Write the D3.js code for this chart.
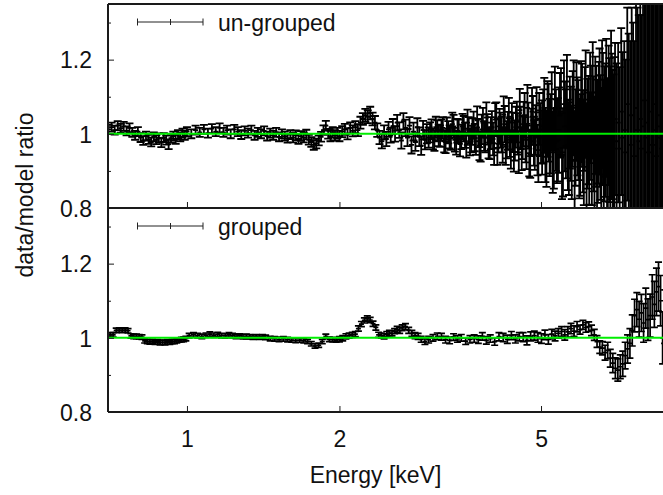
<!DOCTYPE html>
<html><head><meta charset="utf-8">
<script src="https://cdn.jsdelivr.net/npm/d3@7"></script>
<style>
body{margin:0;background:#fff}
svg{display:block}
text{font-family:"Liberation Sans",Arial,Helvetica,sans-serif;fill:#111}
</style>
</head><body><svg id="c" width="663" height="495"></svg>
<script>
// ---------- DATA ----------
const xTickValues = [1, 2, 5];
const yMajorTicks = [0.8, 1, 1.2];
const yMinorTicks = [0.9, 1.1, 1.3];
const seriesLabels = ["un-grouped", "grouped"];

const ungroupedEnergy = [
0.70,0.71,0.72,0.73,0.74,0.75,0.76,0.77,0.78,0.79,0.80,0.81,0.82,0.83,0.84,0.85,0.86,0.87,0.88,0.89,0.90,0.91,0.92,0.93,0.94,0.95,0.96,0.97,0.98,0.99,1.00,
1.02,1.04,1.06,1.08,1.10,1.12,1.14,1.16,1.18,1.20,1.22,1.24,1.26,1.28,1.30,1.32,1.34,1.36,1.38,1.40,1.42,1.44,1.46,1.48,1.50,1.52,1.54,1.56,1.58,1.60,1.62,1.64,1.66,1.68,1.70,1.72,1.74,1.76,1.78,1.80,1.82,1.84,1.86,1.88,1.90,1.92,1.94,1.96,1.98,2.00,
2.025,2.05,2.075,2.10,2.125,2.15,2.175,2.20,2.225,2.25,2.275,2.30,2.325,2.35,2.375,2.40,2.425,2.45,2.475,2.50,2.525,2.55,2.575,2.60,2.625,2.65,2.675,2.70,2.725,2.75,2.775,2.80,2.825,2.85,2.875,2.90,2.925,2.95,2.975,
3.00,3.04,3.08,3.12,3.16,3.20,3.24,3.28,3.32,3.36,3.40,3.44,3.48,3.52,3.56,3.60,3.64,3.68,3.72,3.76,3.80,3.84,3.88,3.92,3.96,4.00,4.04,4.08,4.12,4.16,4.20,4.24,4.28,4.32,4.36,4.40,4.44,4.48,4.52,4.56,4.60,4.64,4.68,4.72,4.76,4.80,4.84,4.88,4.92,4.96,5.00,
5.05,5.10,5.15,5.20,5.25,5.30,5.35,5.40,5.45,5.50,5.55,5.60,5.65,5.70,5.75,5.80,5.85,5.90,5.95,6.00,6.05,6.10,6.15,6.20,6.25,6.30,6.35,6.40,6.45,6.50,6.55,6.60,6.65,6.70,6.75,6.80,6.85,6.90,6.95,7.00,
7.05,7.10,7.15,7.20,7.25,7.30,7.35,7.40,7.45,7.50,7.55,7.60,7.65,7.70,7.75,7.80,7.85,7.90,7.95,8.00,8.05,8.10,8.15,8.20,8.25,8.30,8.35,8.40,8.45,8.50,8.55,8.60,8.65,8.70,8.75,8.80,
3.02,3.06,3.10,3.14,3.18,3.22,3.26,3.30,3.34,3.38,3.42,3.46,3.50,3.54,3.58,3.62,3.66,3.70,3.74,3.78,3.82,3.86,3.90,3.94,3.98,4.02,4.06,4.10,4.14,4.18,4.22,4.26,4.30,4.34,4.38,4.42,4.46,4.50,4.54,4.58,4.62,4.66,4.70,4.74,4.78,4.82,4.86,4.90,4.94,4.98,
5.025,5.075,5.125,5.175,5.225,5.275,5.325,5.375,5.425,5.475,5.525,5.575,5.625,5.675,5.725,5.775,5.825,5.875,5.925,5.975,6.025,6.075,6.125,6.175,6.225,6.275,6.325,6.375,6.425,6.475,6.525,6.575,6.625,6.675,6.725,6.775,6.825,6.875,6.925,6.975
];
const ungroupedRatio = [
1.012,1.018,1.010,1.022,1.015,1.020,1.008,1.016,1.004,0.996,1.006,0.990,0.982,0.994,0.985,0.978,0.992,0.984,0.989,0.976,0.990,0.983,0.972,0.988,0.994,0.985,0.998,0.992,1.002,0.996,1.006,
1.000,1.010,1.004,1.012,1.002,1.014,1.006,1.016,1.004,1.010,1.000,1.012,1.006,0.998,1.008,1.002,1.010,0.996,1.004,1.000,1.008,0.994,1.002,0.996,1.004,0.992,1.000,0.994,0.988,0.998,0.990,0.996,0.986,0.994,0.990,0.998,0.984,0.978,0.970,0.974,0.982,0.992,1.010,1.022,1.000,0.994,1.004,0.996,1.002,0.994,
1.006,1.012,1.000,1.016,1.008,1.018,1.010,1.030,1.040,1.050,1.046,1.056,1.040,1.030,1.010,0.990,0.980,1.004,0.986,1.012,0.996,1.020,1.000,1.030,1.010,0.982,1.034,1.016,0.990,1.022,0.970,1.006,0.978,1.018,0.992,0.968,1.010,0.984,1.000,
0.990,1.012,0.982,1.008,0.994,1.016,0.978,1.004,0.988,1.020,0.976,1.006,0.992,1.014,0.970,1.010,0.986,1.024,0.980,1.002,0.964,1.030,0.990,1.012,0.974,1.018,0.960,1.040,0.996,1.010,0.970,1.026,0.984,1.046,0.958,1.004,0.982,1.032,0.950,1.016,0.990,1.050,0.966,1.022,0.944,1.060,0.980,1.010,0.956,1.040,0.992,
1.020,0.970,1.040,0.990,1.060,0.960,1.010,0.984,1.050,0.940,1.080,1.000,0.970,1.030,0.950,1.070,0.990,1.020,0.960,1.060,0.980,1.040,0.940,1.010,1.070,0.960,1.000,1.050,0.950,1.030,0.990,1.080,0.970,1.010,0.940,1.050,0.990,1.020,0.960,1.040,
0.980,1.030,0.960,1.060,0.990,1.010,0.950,1.080,1.000,0.970,1.050,1.000,0.940,1.070,1.010,0.980,1.040,0.960,1.020,1.090,0.990,1.030,0.950,1.060,1.000,0.970,1.080,1.010,0.940,1.050,0.990,1.020,0.960,1.070,1.000,0.980,
1.004,0.986,1.018,0.996,1.010,0.980,1.014,0.992,1.026,0.984,1.008,0.972,1.020,0.996,1.030,0.978,1.006,0.990,1.036,0.968,1.012,0.994,1.044,0.976,1.002,0.986,1.038,0.962,1.020,0.998,1.052,0.966,1.008,0.990,1.030,0.952,1.018,1.000,1.064,0.960,1.026,0.984,1.070,0.948,1.004,1.036,0.970,1.058,0.940,1.012,
0.990,1.050,0.960,1.030,1.000,0.950,1.070,0.980,1.010,1.060,0.950,1.020,1.090,0.960,1.000,1.040,0.930,1.060,1.010,0.970,1.050,0.950,1.080,1.000,0.960,1.030,1.090,0.940,1.020,0.980,1.060,0.950,1.040,1.000,1.070,0.960,1.010,1.080,0.970,1.000
];
const ungroupedError = [
.012,.012,.012,.012,.012,.012,.012,.012,.012,.012,.012,.012,.012,.012,.012,.012,.012,.012,.012,.012,.012,.012,.013,.012,.012,.012,.012,.012,.012,.012,.012,
.012,.012,.012,.012,.012,.012,.012,.012,.012,.012,.012,.012,.012,.012,.012,.012,.012,.012,.012,.012,.012,.012,.012,.012,.012,.012,.012,.012,.012,.012,.013,.013,.013,.013,.013,.013,.013,.013,.013,.013,.013,.013,.013,.013,.013,.014,.014,.014,.014,.014,
.015,.015,.015,.015,.015,.016,.016,.016,.016,.017,.017,.017,.017,.018,.018,.018,.019,.019,.019,.02,.02,.02,.021,.021,.021,.022,.022,.022,.023,.023,.023,.024,.024,.024,.025,.025,.025,.026,.026,
.027,.027,.028,.028,.029,.029,.03,.03,.031,.031,.032,.032,.033,.034,.034,.035,.036,.036,.037,.038,.039,.04,.04,.041,.042,.043,.044,.045,.046,.047,.048,.049,.05,.051,.052,.053,.054,.055,.056,.057,.058,.06,.061,.062,.063,.064,.066,.067,.068,.07,.071,
.1,.1,.102,.104,.106,.108,.11,.112,.114,.116,.118,.12,.122,.124,.126,.128,.13,.132,.134,.136,.138,.14,.143,.146,.149,.152,.155,.158,.161,.164,.168,.172,.176,.18,.184,.188,.192,.196,.2,.205,
.21,.215,.22,.225,.23,.24,.25,.26,.27,.28,.29,.3,.31,.32,.33,.34,.35,.36,.37,.38,.39,.4,.41,.42,.43,.44,.45,.46,.47,.48,.49,.5,.51,.52,.53,.54,
.027,.028,.028,.029,.029,.03,.03,.031,.031,.032,.032,.033,.034,.034,.035,.036,.036,.037,.038,.039,.04,.04,.041,.042,.043,.044,.045,.046,.047,.048,.049,.05,.051,.052,.053,.054,.055,.056,.057,.058,.06,.061,.062,.063,.064,.066,.067,.068,.07,.071,
.1,.101,.103,.105,.107,.109,.111,.113,.115,.117,.119,.121,.123,.125,.127,.129,.131,.133,.135,.137,.139,.142,.145,.148,.151,.154,.157,.16,.163,.166,.17,.174,.178,.182,.186,.19,.194,.198,.202,.207
];

const groupedEnergy = [
0.705,0.715,0.725,0.735,0.745,0.755,0.765,0.775,0.785,0.795,
0.805,0.815,0.825,0.835,0.845,0.855,0.865,0.875,0.885,0.895,
0.905,0.915,0.925,0.935,0.945,0.955,0.965,0.975,0.985,0.995,
1.01,1.03,1.05,1.07,1.09,1.11,1.13,1.15,1.17,1.19,
1.21,1.23,1.25,1.27,1.29,1.31,1.33,1.35,1.37,1.39,
1.41,1.43,1.46,1.49,1.52,1.55,1.58,1.61,1.64,1.67,
1.70,1.73,1.76,1.79,1.82,1.85,1.88,1.91,1.94,1.97,
2.00,2.03,2.06,2.09,2.12,2.15,2.18,2.21,2.24,2.27,
2.30,2.33,2.36,2.39,2.42,2.45,2.48,2.51,2.54,2.57,
2.60,2.63,2.66,2.70,2.74,2.78,2.82,2.86,2.90,2.95,
3.00,3.06,3.12,3.18,3.24,3.30,3.36,3.42,3.48,3.55,
3.62,3.69,3.76,3.83,3.90,3.97,4.05,4.13,4.21,4.29,
4.37,4.45,4.53,4.61,4.69,4.77,4.85,4.93,5.01,5.09,
5.17,5.25,5.33,5.41,5.49,5.57,5.65,5.73,5.81,5.89,
5.97,6.05,6.13,6.21,6.29,6.37,6.45,6.53,6.61,6.69,
6.77,6.85,6.93,7.01,7.09,7.17,7.25,7.33,7.41,7.49,
7.57,7.65,7.73,7.81,7.89,7.97,8.05,8.13,8.21,8.29,
8.37,8.45,8.53,8.61,8.69,8.77
];
const groupedRatio = [
1.008,1.008,1.020,1.021,1.020,1.021,1.019,1.005,1.004,1.004,
1.003,1.002,0.992,0.990,0.989,0.990,0.988,0.989,0.987,0.988,
0.987,0.989,0.988,0.990,0.990,0.992,0.994,0.995,0.996,0.998,
1.006,1.008,1.006,1.004,1.007,1.010,1.007,1.009,1.006,1.005,
1.008,1.006,1.004,1.005,1.003,1.004,1.003,1.002,1.003,1.002,
1.003,1.001,0.998,0.997,0.996,0.997,0.995,0.994,0.993,0.994,
0.992,0.990,0.984,0.978,0.980,0.990,1.004,0.996,0.995,0.994,
0.996,0.999,1.004,1.006,1.008,1.010,1.025,1.037,1.047,1.052,
1.048,1.038,1.028,1.008,1.006,1.004,1.010,1.013,1.012,1.018,
1.023,1.020,1.027,1.030,1.020,1.012,1.006,1.004,0.996,0.990,
0.995,1.000,1.004,1.003,0.995,0.993,1.002,0.997,1.000,0.991,
0.996,0.998,0.995,1.004,0.993,0.998,0.990,1.003,1.001,0.996,
1.006,0.997,1.003,1.002,0.993,1.004,1.006,1.001,0.998,1.008,
0.996,1.010,1.005,1.012,1.017,1.008,1.016,1.025,1.018,1.030,
1.022,1.035,1.028,1.030,1.020,1.008,0.990,0.975,0.972,0.960,
0.966,0.945,0.932,0.918,0.913,0.922,0.930,0.952,0.970,0.985,
1.020,1.060,1.076,1.050,1.067,1.040,1.080,1.049,1.060,1.110,
1.090,1.124,1.138,1.100,1.000,1.057
];
const groupedError = [
.006,.006,.006,.006,.006,.006,.006,.006,.006,.006,
.006,.006,.006,.006,.006,.006,.006,.006,.006,.006,
.006,.006,.006,.006,.006,.006,.006,.006,.006,.006,
.006,.006,.006,.006,.006,.006,.006,.006,.006,.006,
.006,.006,.006,.006,.006,.006,.006,.006,.006,.006,
.006,.006,.006,.006,.006,.006,.006,.006,.006,.006,
.006,.006,.006,.006,.006,.006,.006,.006,.006,.006,
.007,.007,.007,.007,.007,.007,.007,.007,.007,.007,
.007,.007,.007,.007,.007,.007,.007,.007,.007,.007,
.008,.008,.008,.008,.008,.008,.008,.008,.008,.008,
.009,.009,.009,.009,.009,.009,.009,.009,.009,.009,
.010,.010,.010,.010,.010,.010,.010,.011,.011,.011,
.011,.011,.011,.012,.012,.012,.012,.013,.013,.013,
.013,.013,.013,.013,.013,.014,.014,.014,.014,.014,
.012,.012,.013,.013,.014,.015,.016,.017,.018,.020,
.022,.024,.026,.028,.030,.032,.034,.036,.038,.040,
.042,.044,.046,.048,.050,.052,.054,.056,.058,.060,
.062,.064,.066,.068,.070,.072
];

// ---------- LAYOUT ----------
const W = 663, H = 495, L = 108;
const svg = d3.select("#c");
const x = d3.scaleLog().domain([0.7, 10]).range([108.5, 693.5]);
const ink = "#1a1a1a";
const FS = 23;

const panels = [
  {top: 4, bottom: 208, E: ungroupedEnergy, R: ungroupedRatio, S: ungroupedError, label: seriesLabels[0], legY: 22, legText: 31, xLabels: false, sw: 1.8, cap: 4},
  {top: 208, bottom: 412, E: groupedEnergy, R: groupedRatio, S: groupedError, label: seriesLabels[1], legY: 226, legText: 235, xLabels: true, sw: 1.7, cap: 3.5}
];

const defs = svg.append("defs");

panels.forEach((p, k) => {
  const y = d3.scaleLinear().domain([0.8, 1.35]).range([p.bottom, p.top]);
  defs.append("clipPath").attr("id", "clip" + k)
    .append("rect").attr("x", L).attr("y", p.top).attr("width", W - L).attr("height", p.bottom - p.top);

  const raw = p.E.map((e, i) => ({e, r: p.R[i], s: p.S[i]})).sort((a, b) => a.e - b.e);
  const pts = raw.map((d, i) => {
    const e = d.e;
    const prev = i > 0 ? raw[i - 1].e : e * e / raw[i + 1].e;
    const next = i < raw.length - 1 ? raw[i + 1].e : e * e / raw[i - 1].e;
    return {...d, lo: Math.sqrt(prev * e), hi: Math.sqrt(e * next)};
  });

  const g = svg.append("g").attr("clip-path", `url(#clip${k})`);
  const cap = p.cap, mk = 2.5;
  g.selectAll("path.eb").data(pts).join("path")
    .attr("class", "eb")
    .attr("fill", "none")
    .attr("stroke", "#000")
    .attr("stroke-width", p.sw)
    .attr("d", d => {
      const xc = x(d.e), y1 = y(d.r - d.s), y2 = y(d.r + d.s), yc = y(d.r);
      return `M${xc},${y1}V${y2}M${xc - cap},${y1}H${xc + cap}M${xc - cap},${y2}H${xc + cap}` +
             `M${Math.min(x(d.lo), xc - mk)},${yc}H${Math.max(x(d.hi), xc + mk)}M${xc},${yc - mk}V${yc + mk}`;
    });

  // model line (ratio = 1)
  svg.append("line")
    .attr("x1", L).attr("x2", W)
    .attr("y1", y(1)).attr("y2", y(1))
    .attr("stroke", "#00ee00").attr("stroke-width", 2);

  // y axis ticks
  const yMaj = d3.axisLeft(y).tickValues(yMajorTicks).tickSize(-6).tickSizeOuter(0).tickPadding(16)
    .tickFormat(d => d === 1 ? "1" : d3.format(".1f")(d));
  const ya = svg.append("g").attr("transform", `translate(${L},0)`).call(yMaj);
  ya.select(".domain").remove();
  ya.selectAll("line").attr("stroke", ink);
  ya.selectAll("text").attr("font-size", FS).attr("fill", "#111").attr("dy", "0.36em")
    .style("font-family", '"Liberation Sans",Arial,sans-serif');
  const yMin = d3.axisLeft(y).tickValues(yMinorTicks).tickSize(-3).tickSizeOuter(0).tickFormat("");
  const ym = svg.append("g").attr("transform", `translate(${L},0)`).call(yMin);
  ym.select(".domain").remove();
  ym.selectAll("line").attr("stroke", ink);

  // x axis ticks at bottom of each panel
  const xa = svg.append("g").attr("transform", `translate(0,${p.bottom})`)
    .call(d3.axisBottom(x).tickValues(xTickValues).tickSize(-6).tickSizeOuter(0).tickFormat(d3.format("d")));
  xa.select(".domain").remove();
  xa.selectAll("line").attr("stroke", ink);
  if (p.xLabels) {
    xa.selectAll("text").attr("font-size", FS).attr("fill", "#111").attr("dy", null).attr("y", 35)
      .style("font-family", '"Liberation Sans",Arial,sans-serif');
  } else {
    xa.selectAll("text").remove();
  }

  // legend
  const lx1 = 137.5, lx2 = 203, lxc = 170.5, ly = p.legY;
  svg.append("path").attr("fill", "none").attr("stroke", "#222").attr("stroke-width", 1)
    .attr("d", `M${lx1},${ly}H${lx2}M${lx1},${ly - 3.5}V${ly + 3.5}M${lx2},${ly - 3.5}V${ly + 3.5}M${lxc},${ly - 3}V${ly + 3}`);
  svg.append("text").attr("x", 218).attr("y", p.legText).attr("font-size", FS).text(p.label);
});

// frame
svg.append("path").attr("fill", "none").attr("stroke", ink).attr("stroke-width", 2)
  .attr("d", `M${L},4H${W}M${L},208H${W}M${L},412H${W}M${L},4V412`);

// axis titles
svg.append("text").attr("x", 375.5).attr("y", 483).attr("text-anchor", "middle").attr("font-size", FS).text("Energy [keV]");
svg.append("text").attr("transform", "translate(33,195) rotate(-90)").attr("text-anchor", "middle").attr("font-size", FS).text("data/model ratio");
</script>
</body></html>
